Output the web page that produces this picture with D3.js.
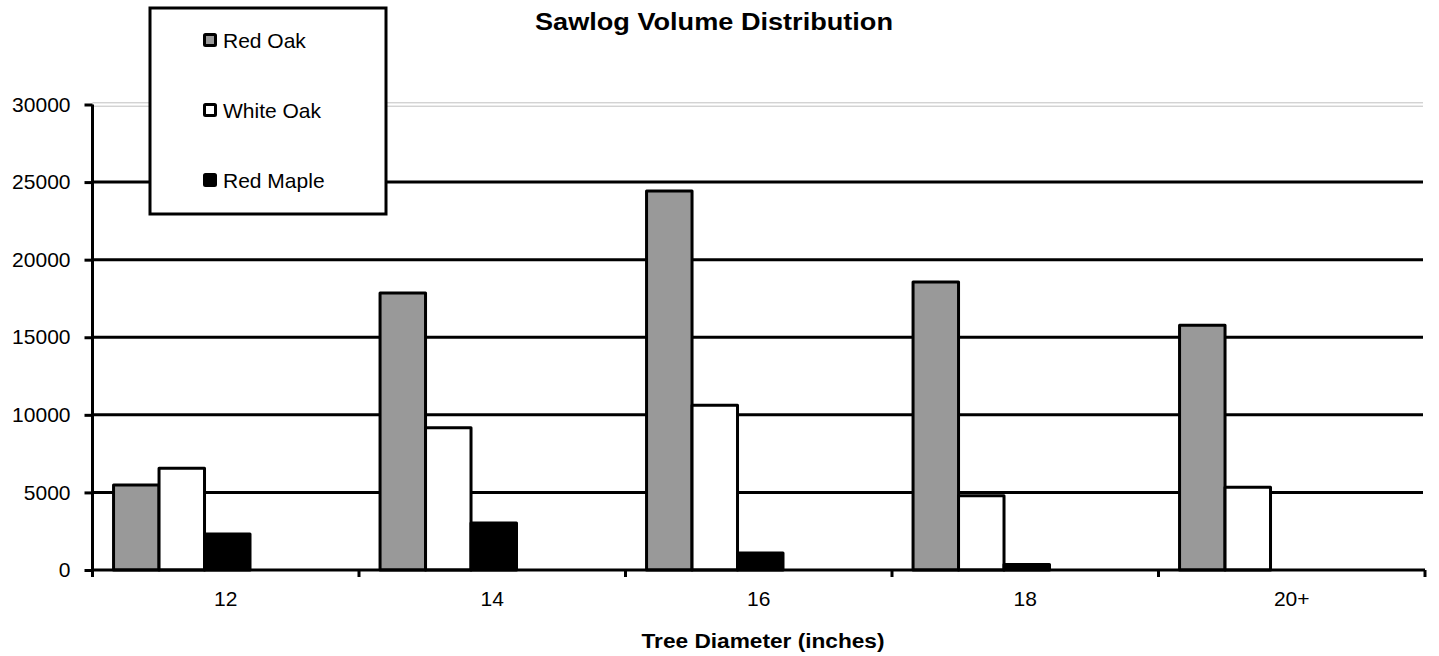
<!DOCTYPE html>
<html>
<head>
<meta charset="utf-8">
<script src="https://cdn.jsdelivr.net/npm/d3@7"></script>
<style>
  html, body { margin: 0; padding: 0; background: #fff; }
  svg { display: block; font-family: "Liberation Sans", Arial, sans-serif; }
</style>
</head>
<body>
<svg id="chart" width="1439" height="656"></svg>
<script>
const categories = ["12", "14", "16", "18", "20+"];
const seriesNames = ["Red Oak", "White Oak", "Red Maple"];
const redOak = [5480, 17850, 24420, 18560, 15770];
const whiteOak = [6560, 9160, 10620, 4780, 5340];
const redMaple = [2320, 3030, 1100, 350, 0];
const yTicks = [0, 5000, 10000, 15000, 20000, 25000, 30000];
const seriesColors = ["#999999", "#ffffff", "#000000"];

const seriesValues = [redOak, whiteOak, redMaple];

const svg = d3.select("#chart");

const x = d3.scaleBand().domain(categories).range([92.5, 1425]).padding(0);
const y = d3.scaleLinear().domain([0, 30000]).range([570, 104.5]);
const bw = x.bandwidth();
const xs = d3.scaleBand().domain(seriesNames).range([bw * 0.079, bw * 0.079 + bw * 0.512]).padding(0);
const color = d3.scaleOrdinal().domain(seriesNames).range(seriesColors);

// gridlines
const gridVals = yTicks.filter(v => v > 0 && v < 30000);
svg.append("g").selectAll("line").data(gridVals).join("line")
  .attr("x1", 92.5).attr("x2", 1423)
  .attr("y1", d => y(d)).attr("y2", d => y(d))
  .attr("stroke", "#000").attr("stroke-width", 3);

// top border (double grey line at 30000)
[-1.7, 1.7].forEach(off => {
  svg.append("line")
    .attr("x1", 92.5).attr("x2", 1423)
    .attr("y1", y(30000) + off).attr("y2", y(30000) + off)
    .attr("stroke", "#c0c0c0").attr("stroke-width", 1);
});

// bars
const barData = [];
categories.forEach((c, i) => {
  seriesNames.forEach((s, j) => {
    barData.push({ cat: c, series: s, value: seriesValues[j][i] });
  });
});
svg.append("g").selectAll("rect").data(barData.filter(d => d.value > 0)).join("rect")
  .attr("x", d => x(d.cat) + xs(d.series))
  .attr("width", xs.bandwidth())
  .attr("y", d => y(d.value))
  .attr("height", d => y(0) - y(d.value))
  .attr("fill", d => color(d.series))
  .attr("stroke", "#000").attr("stroke-width", 3)
  .attr("stroke-linejoin", "round");

// y axis
const yAxis = d3.axisLeft(y).tickValues(yTicks).tickSize(8).tickPadding(14).tickFormat(d3.format("d"));
const gy = svg.append("g").attr("transform", "translate(92.5,0)").call(yAxis);
gy.select(".domain").attr("stroke", "#000").attr("stroke-width", 3).attr("d", `M0,${y(30000)}V${y(0) + 1.5}`);
gy.selectAll(".tick line").attr("stroke", "#000").attr("stroke-width", 3);
gy.selectAll(".tick text").attr("font-size", 21).attr("fill", "#000")
  .attr("font-family", "'Liberation Sans', Arial, sans-serif");

// x axis
const xAxis = d3.axisBottom(x).tickSize(0).tickPadding(21);
const gx = svg.append("g").attr("transform", `translate(0,${y(0)})`).call(xAxis);
gx.select(".domain").attr("stroke", "#000").attr("stroke-width", 3).attr("d", `M92.5,0H1425`);
gx.selectAll(".tick text").attr("font-size", 21).attr("fill", "#000")
  .attr("font-family", "'Liberation Sans', Arial, sans-serif");
// boundary ticks
const bounds = categories.map(c => x(c)).concat([x(categories[categories.length - 1]) + bw]);
gx.append("g").selectAll("line").data(bounds).join("line")
  .attr("x1", d => d).attr("x2", d => d)
  .attr("y1", 0).attr("y2", 7)
  .attr("stroke", "#000").attr("stroke-width", 3);

// title
svg.append("text")
  .attr("x", 714).attr("y", 30)
  .attr("text-anchor", "middle")
  .attr("font-size", 23).attr("font-weight", "bold")
  .attr("textLength", 358).attr("lengthAdjust", "spacingAndGlyphs")
  .text("Sawlog Volume  Distribution");

// x axis title
svg.append("text")
  .attr("x", 763).attr("y", 648)
  .attr("text-anchor", "middle")
  .attr("font-size", 20).attr("font-weight", "bold")
  .attr("textLength", 243).attr("lengthAdjust", "spacingAndGlyphs")
  .text("Tree Diameter  (inches)");

// legend
const lg = svg.append("g");
lg.append("rect")
  .attr("x", 150).attr("y", 8).attr("width", 236).attr("height", 206)
  .attr("fill", "#fff").attr("stroke", "#000").attr("stroke-width", 3);
const legendY = d3.scalePoint().domain(seriesNames).range([40, 180]);
const items = lg.selectAll("g.item").data(seriesNames).join("g").attr("class", "item")
  .attr("transform", d => `translate(0,${legendY(d)})`);
items.append("rect")
  .attr("x", 204.5).attr("y", -5.5).attr("width", 11).attr("height", 11)
  .attr("fill", d => color(d)).attr("stroke", "#000").attr("stroke-width", 3)
  .attr("rx", 1);
items.append("text")
  .attr("x", 223).attr("y", 7.5)
  .attr("font-size", 21).attr("fill", "#000")
  .text(d => d);
</script>
</body>
</html>
